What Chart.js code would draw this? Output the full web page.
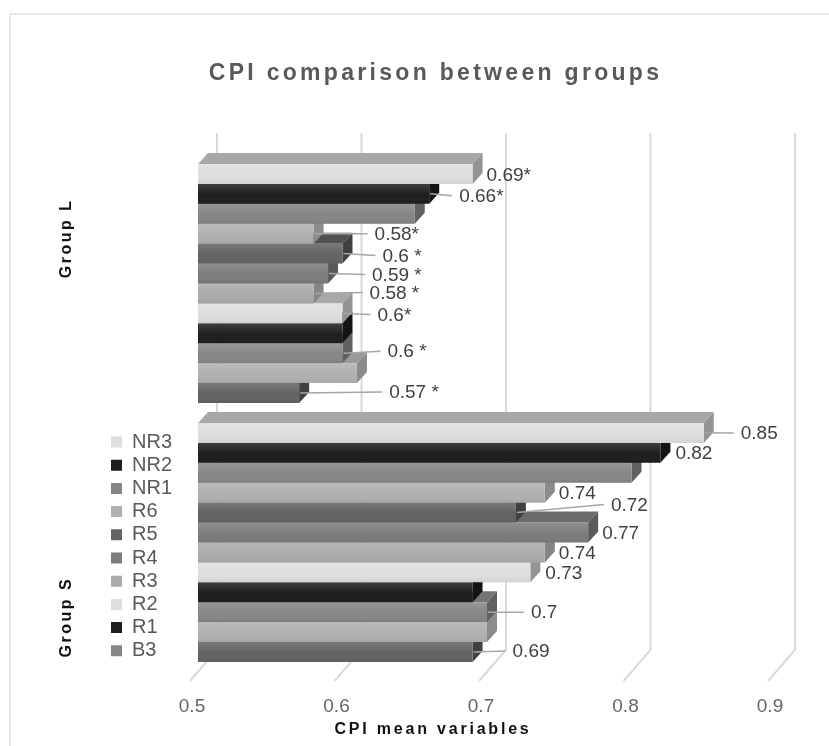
<!DOCTYPE html>
<html>
<head>
<meta charset="utf-8">
<title>CPI comparison between groups</title>
<script src="https://cdn.jsdelivr.net/npm/chart.js@4"></script>
<style>
  html, body { margin: 0; padding: 0; background: #fff; }
  #wrap { position: relative; width: 829px; height: 746px; overflow: hidden; }
  #frame { position: absolute; left: 9px; top: 13px; right: -4px; bottom: -4px; border: 2px solid #e8e8e8; }
  canvas { position: absolute; left: 0; top: 0; }
</style>
</head>
<body>
<div id="wrap">
  <div id="frame"></div>
  <canvas id="cpiChart" width="829" height="746"></canvas>
</div>
<script>
var categories = ['Group L', 'Group S'];
var seriesNames = ['NR3', 'NR2', 'NR1', 'R6', 'R5', 'R4', 'R3', 'R2', 'R1', 'B3', 'B2', 'B1'];
var groupL = [0.69, 0.66, 0.65, 0.58, 0.6, 0.59, 0.58, 0.6, 0.6, 0.6, 0.61, 0.57];
var groupS = [0.85, 0.82, 0.8, 0.74, 0.72, 0.77, 0.74, 0.73, 0.69, 0.7, 0.7, 0.69];
var xTicks = [0.5, 0.6, 0.7, 0.8, 0.9];

// printed labels, null where the original prints none
var labelsL = ['0.69*', '0.66*', null, '0.58*', '0.6 *', '0.59 *', '0.58 *', '0.6*', null, '0.6 *', null, '0.57 *'];
var labelsS = ['0.85', '0.82', null, '0.74', '0.72', '0.77', '0.74', '0.73', null, '0.7', null, '0.69'];

// label placement relative to the end of the bar
var gapL = [14, 30, 0, 61, 40, 44, 56, 35, 0, 45, 0, 90];
var gapS = [37, 15, 0, 14, 95, 14, 14, 15, 0, 44, 0, 40];
var shiftL = [1, 2, 0, 0, 2, 1, -1, 1, 0, -2, 0, -1];
var shiftS = [0, 0, 0, 0, -8, 0, 0, 0, 0, 0, 0, -1];

// front, side and top face of each series
var frontColors = ['#dedede', '#1e1e1e', '#868686', '#b0b0b0', '#636363', '#7c7c7c', '#ababab', '#dedede', '#1e1e1e', '#868686', '#b0b0b0', '#636363'];
var sideColors = ['#949494', '#141414', '#616161', '#8b8b8b', '#404040', '#5a5a5a', '#868686', '#949494', '#141414', '#616161', '#8b8b8b', '#404040'];
var topColors = ['#a8a8a8', '#2c2c2c', '#757575', '#9a9a9a', '#525252', '#6a6a6a', '#969696', '#a8a8a8', '#2c2c2c', '#757575', '#9a9a9a', '#525252'];

var depthX = 10, depthY = 11;
var FONT = "'Liberation Sans', Arial, sans-serif";

function poly(ctx, pts, color) {
  ctx.fillStyle = color;
  ctx.beginPath();
  ctx.moveTo(pts[0][0], pts[0][1]);
  for (var i = 1; i < pts.length; i++) ctx.lineTo(pts[i][0], pts[i][1]);
  ctx.closePath();
  ctx.fill();
}

// canvas has letterSpacing but Chart.js has no option for it, so wrap the draw call
function spaced(obj, method, px, dx) {
  var orig = obj[method];
  obj[method] = function (a) {
    var ctx = this.ctx;
    ctx.save();
    ctx.letterSpacing = px + 'px';
    ctx.translate(dx, 0);
    orig.call(this, a);
    ctx.restore();
  };
}

var bars3d = {
  id: 'bars3d',
  afterLayout: function (chart) {
    // legend sits to the left of the bars, over the empty margin
    var lg = chart.legend;
    lg.left = 107.8; lg.right = 190;
    lg.top = 428.8; lg.bottom = 672;
    if (!chart.$spaced) {
      chart.$spaced = true;
      spaced(chart.titleBlock, 'draw', 3.3, 27);
      spaced(chart.scales.x, 'drawTitle', 2.8, -54);
      spaced(chart.scales.groupAxis, 'drawLabels', 2.5, 0);
    }
  },
  beforeDatasetsDraw: function (chart) {
    var ctx = chart.ctx, area = chart.chartArea, x = chart.scales.x;
    ctx.save();
    ctx.strokeStyle = '#d9d9d9';
    ctx.lineWidth = 2;
    xTicks.forEach(function (v) {
      var px = x.getPixelForValue(v);
      ctx.beginPath();
      ctx.moveTo(px + 19, area.top - 21);
      ctx.lineTo(px + 19, area.bottom - 22);
      ctx.lineTo(px - 8, area.bottom + 9);
      ctx.stroke();
    });
    ctx.restore();
  },
  beforeDatasetDraw: function (chart, args) {
    var ctx = chart.ctx, i = args.index;
    args.meta.data.forEach(function (el) {
      var t = el.y - el.height / 2, b = el.y + el.height / 2;
      poly(ctx, [[el.base, t], [el.base + depthX, t - depthY], [el.x + depthX, t - depthY], [el.x, t]], topColors[i]);
      poly(ctx, [[el.x, t], [el.x + depthX, t - depthY], [el.x + depthX, b - depthY], [el.x, b]], sideColors[i]);
    });
  },
  afterDatasetDraw: function (chart, args) {
    // soft shading on the front of each bar
    var ctx = chart.ctx;
    args.meta.data.forEach(function (el) {
      var t = el.y - el.height / 2;
      var g = ctx.createLinearGradient(0, t, 0, t + el.height);
      g.addColorStop(0, 'rgba(255,255,255,0.14)');
      g.addColorStop(0.55, 'rgba(255,255,255,0)');
      g.addColorStop(1, 'rgba(0,0,0,0.06)');
      ctx.fillStyle = g;
      ctx.fillRect(el.base, t, el.x - el.base, el.height);
    });
  },
  afterDatasetsDraw: function (chart) {
    var ctx = chart.ctx;
    ctx.save();
    ctx.font = '19px ' + FONT;
    ctx.textBaseline = 'middle';
    ctx.textAlign = 'left';
    chart.data.datasets.forEach(function (ds, i) {
      var meta = chart.getDatasetMeta(i);
      [[labelsL, gapL, shiftL], [labelsS, gapS, shiftS]].forEach(function (g, c) {
        var text = g[0][i];
        if (!text) return;
        var el = meta.data[c];
        var lx = el.x + g[1][i], ly = el.y + g[2][i];
        if (g[1][i] > 20) {
          ctx.strokeStyle = '#a6a6a6';
          ctx.lineWidth = 1.5;
          ctx.beginPath();
          ctx.moveTo(el.x + 1, el.y);
          ctx.lineTo(lx - 7, ly);
          ctx.stroke();
        }
        ctx.fillStyle = '#404040';
        ctx.fillText(text, lx, ly + 1);
      });
    });
    ctx.restore();
  }
};

var datasets = seriesNames.map(function (name, i) {
  return {
    label: name,
    data: [groupL[i], groupS[i]],
    base: 0.5,
    backgroundColor: frontColors[i],
    borderWidth: 0,
    categoryPercentage: 0.923,
    barPercentage: 1
  };
});

new Chart(document.getElementById('cpiChart').getContext('2d'), {
  type: 'bar',
  data: { labels: categories, datasets: datasets },
  plugins: [bars3d],
  options: {
    indexAxis: 'y',
    responsive: false,
    animation: false,
    layout: { padding: { left: 41, right: 53, top: 0, bottom: 0 } },
    plugins: {
      title: {
        display: true,
        text: 'CPI comparison between groups',
        color: '#595959',
        font: { family: FONT, size: 23, weight: 'bold' },
        padding: { top: 60, bottom: 66.4 }
      },
      tooltip: { enabled: false },
      legend: {
        position: 'chartArea',
        align: 'start',
        labels: {
          boxWidth: 11,
          boxHeight: 11,
          padding: 3.2,
          color: '#595959',
          font: { family: FONT, size: 20 },
          generateLabels: function () {
            // the original legend stops at B3
            return seriesNames.slice(0, 10).map(function (name, i) {
              return { text: name, fillStyle: frontColors[i], strokeStyle: frontColors[i], lineWidth: 0, datasetIndex: i, fontColor: '#595959' };
            });
          }
        }
      }
    },
    scales: {
      x: {
        type: 'linear',
        min: 0.5,
        max: 0.9,
        grid: { display: false },
        border: { display: false },
        afterBuildTicks: function (scale) {
          scale.ticks = xTicks.map(function (v) { return { value: v }; });
        },
        afterFit: function (scale) {
          scale.height = 74;
          scale.paddingLeft = 0;
          scale.paddingRight = 0;
        },
        ticks: {
          color: '#666666',
          font: { family: FONT, size: 19 },
          padding: 15,
          labelOffset: -6,
          maxRotation: 0,
          callback: function (v) { return String(v); }
        },
        title: {
          display: true,
          text: 'CPI mean variables',
          color: '#111111',
          font: { family: FONT, size: 16, weight: 'bold' },
          padding: { top: 4, bottom: 7 }
        }
      },
      y: {
        display: false,
        grid: { display: false }
      },
      groupAxis: {
        axis: 'y',
        type: 'linear',
        position: 'left',
        offset: false,
        min: 0,
        max: 2,
        grid: { display: false, offset: false },
        border: { display: false },
        afterBuildTicks: function (scale) {
          scale.ticks = [1.674, 0.212].map(function (v) { return { value: v }; });
        },
        afterFit: function (scale) {
          scale.width = 157;
          scale.paddingTop = 0;
          scale.paddingBottom = 0;
        },
        ticks: {
          color: '#111111',
          font: { family: FONT, size: 16, weight: 'bold' },
          minRotation: 90,
          maxRotation: 90,
          crossAlign: 'center',
          padding: 92,
          autoSkip: false,
          callback: function (v, i) { return categories[i]; }
        }
      }
    }
  }
});
</script>
</body>
</html>
